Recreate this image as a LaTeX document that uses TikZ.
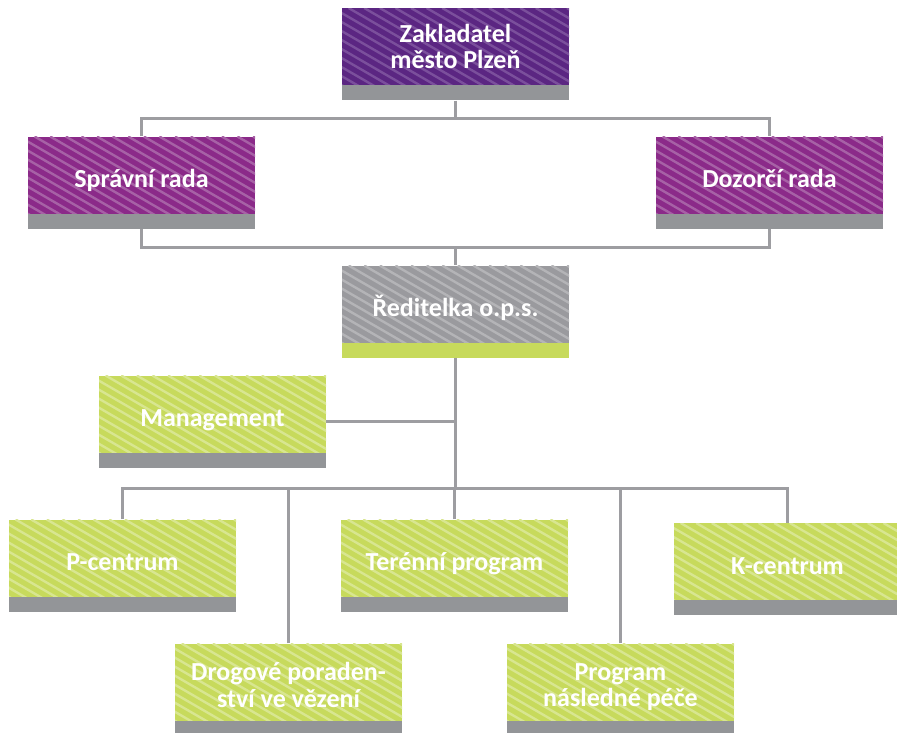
\documentclass[tikz,border=0pt]{standalone}
\usepackage{fontspec}
\setmainfont{Carlito}
\usetikzlibrary{calc}
\definecolor{purpD}{HTML}{5B2682}
\definecolor{purpDL}{HTML}{7B4F9C}
\definecolor{purpM}{HTML}{8B2A89}
\definecolor{purpML}{HTML}{A761A6}
\definecolor{grayB}{HTML}{9A9A9E}
\definecolor{grayBL}{HTML}{B4B4B7}
\definecolor{greenB}{HTML}{C7DA5C}
\definecolor{greenBL}{HTML}{D8E690}
\definecolor{barG}{HTML}{939598}
\definecolor{lineG}{HTML}{9D9DA1}
\tikzset{
  hatch/.style={path picture={\foreach \k in {0,...,26}{\draw[line width=2.4pt,draw=#1]
     ([xshift=\k*15.6pt-165pt]path picture bounding box.north west) -- ++(320,185);}}},
  box/.style={rectangle, minimum width=227pt, minimum height=77pt, inner sep=0pt,
     text=white, align=center, font=\fontsize{26}{26.5}\selectfont\bfseries,
     text height=25pt, text depth=0pt},
  bar/.style={rectangle, minimum width=227pt, minimum height=15pt, inner sep=0pt, fill=barG, anchor=north},
  conn/.style={draw=lineG, line width=3pt, line join=miter},
}
\begin{document}
\begin{tikzpicture}[x=1pt,y=-1pt]
\useasboundingbox (0,0) rectangle (897,732);
% boxes
\node[box, fill=purpD, hatch=purpDL, text height=44pt] (zak) at (455.5,46.5) {Zakladatel\\město Plzeň};
\node[bar] (zakb) at (zak.south) {};
\node[box, fill=purpM, hatch=purpML] (spr) at (141.5,175) {Správní rada};
\node[bar] (sprb) at (spr.south) {};
\node[box, fill=purpM, hatch=purpML] (doz) at (769.5,175) {Dozorčí rada};
\node[bar] (dozb) at (doz.south) {};
\node[box, fill=grayB, hatch=grayBL] (red) at (455.5,304) {Ředitelka o.p.s.};
\node[bar, fill=greenB] (redb) at (red.south) {};
\node[box, fill=greenB, hatch=greenBL] (man) at (212.5,414) {Management};
\node[bar] (manb) at (man.south) {};
\node[box, fill=greenB, hatch=greenBL] (pcen) at (122.5,558) {P-centrum};
\node[bar] (pcenb) at (pcen.south) {};
\node[box, fill=greenB, hatch=greenBL] (ter) at (454.5,558) {Terénní program};
\node[bar] (terb) at (ter.south) {};
\node[box, fill=greenB, hatch=greenBL] (kcen) at (787.5,561.5) {K-centrum};
\node[bar] (kcenb) at (kcen.south) {};
\node[box, fill=greenB, hatch=greenBL, text height=50pt] (drog) at (288.5,682) {Drogové poraden-\\ství ve vězení};
\node[bar] (drogb) at (drog.south) {};
\node[box, fill=greenB, hatch=greenBL, text height=49pt] (prog) at (620.5,682) {Program\\následné péče};
\node[bar] (progb) at (prog.south) {};
% junctions
\coordinate (j1) at ($(zakb.south)+(0,18)$);
\coordinate (j2) at ($(sprb.south)!0.5!(dozb.south)+(0,18)$);
\coordinate (j2) at (red.north |- j2);
\coordinate (j3) at ($(redb.south)+(0,130)$);
% connectors
\draw[conn] (zakb.south) -- (j1);
\draw[conn] (spr.north) |- (j1) -| (doz.north);
\draw[conn] (sprb.south) |- (j2) -| (dozb.south);
\draw[conn] (j2) -- (red.north);
\draw[conn] (redb.south) -- (j3);
\draw[conn] ($(man.east)+(0,7.5)$) -- ($(man.east -| redb.south)+(0,7.5)$);
\draw[conn] (pcen.north) |- (j3) -| (kcen.north);
\draw[conn] (ter.north) -- (ter.north |- j3);
\draw[conn] (drog.north) -- (drog.north |- j3);
\draw[conn] (prog.north) -- (prog.north |- j3);
\end{tikzpicture}
\end{document}
